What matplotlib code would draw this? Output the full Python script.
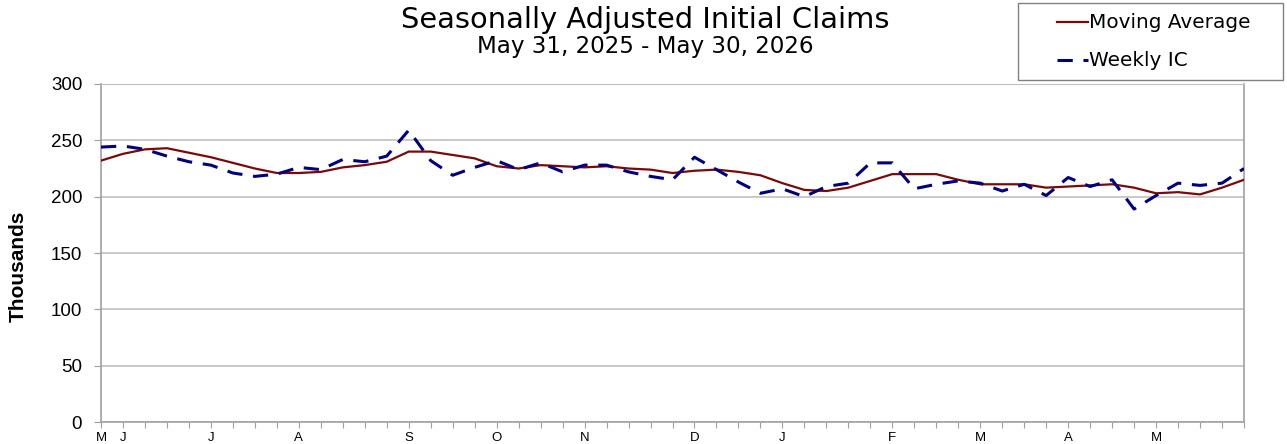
import matplotlib
matplotlib.use("Agg")
import matplotlib.pyplot as plt
from matplotlib.lines import Line2D
from matplotlib.patches import Rectangle
import numpy as np
import pandas as pd

plt.rcParams['font.family'] = ['Liberation Sans', 'DejaVu Sans']

W, H = 1287, 444

# week ending dates (Saturdays)
weeks = pd.date_range("2025-05-31", "2026-05-30", freq="7D")

# weekly initial claims, thousands
weekly_ic = [244, 245, 242, 236, 231, 228, 221, 218, 220, 226,
             224, 233, 231, 236, 259, 232, 219, 226, 232, 224,
             230, 222, 228, 228, 222, 218, 215, 235, 224, 213,
             203, 207, 200, 209, 212, 230, 230, 207, 211, 214,
             212, 205, 211, 201, 217, 209, 215, 189, 201, 212,
             210, 212, 225]

# 4-week moving average, thousands
moving_avg = [232, 238, 242, 243, 239, 235, 230, 225, 221, 221,
              222, 226, 228, 231, 240, 240, 237, 234, 227, 225,
              228, 227, 226, 227, 225, 224, 221, 223, 224, 222,
              219, 212, 206, 205, 208, 214, 220, 220, 220, 215,
              211, 211, 211, 208, 209, 210, 211, 208, 203, 204,
              202, 208, 215]

series_names = ["Moving Average", "Weekly IC"]
ma_color = "#7a0a0a"
ic_color = "#000080"

# first letter of month on the first week of each month
tick_labels = []
for i, d in enumerate(weeks):
	if i == 0 or d.day <= 7:
		tick_labels.append(d.strftime("%b")[0])
	else:
		tick_labels.append("")

def fx(px):
	return px / W

def fy(py):
	return 1 - py / H

fig = plt.figure(figsize=(W / 100, H / 100), dpi=100)
ax = fig.add_axes([fx(101), 22 / H, 1143 / W, 338 / H])

x = np.arange(len(weeks))
ax.plot(x, moving_avg, color=ma_color, linewidth=1.6, zorder=3)
ax.plot(x, weekly_ic, color=ic_color, linewidth=2.2, dashes=(5, 3.5), zorder=3)

ax.set_xlim(0, len(weeks) - 1)
ax.set_ylim(0, 300)
ax.set_yticks(np.arange(0, 301, 50))
ax.set_xticks(x)
ax.set_xticklabels(tick_labels, fontsize=9.5)
ax.tick_params(axis="y", labelsize=13.5, length=5, color="#a0a0a0", pad=8.5)
ax.tick_params(axis="x", length=4, color="#a0a0a0", pad=3)
ax.grid(axis="y", color="#c0c0c0", linewidth=1.2)
ax.set_axisbelow(True)
for s in ["left", "bottom", "right"]:
	ax.spines[s].set_color("#a0a0a0")
	ax.spines[s].set_linewidth(1.2)
ax.spines["top"].set_color("#c0c0c0")

ax.set_ylabel("Thousands", fontsize=15, fontweight="bold")
ax.yaxis.set_label_coords((28 - 101) / 1143, (422 - 266) / 338)

fig.text(fx(645), fy(20), "Seasonally Adjusted Initial Claims", ha="center", va="center",
	fontsize=20.8, family="DejaVu Sans")
fig.text(fx(645), fy(46), "May 31, 2025 - May 30, 2026", ha="center", va="center",
	fontsize=16.6, family="DejaVu Sans")

# legend box drawn by hand
fig.patches.append(Rectangle((fx(1018), fy(80)), fx(1283) - fx(1018), fy(3) - fy(80),
	transform=fig.transFigure, facecolor="white", edgecolor="#808080", linewidth=1.0, zorder=5))
fig.lines.append(Line2D([fx(1057), fx(1088)], [fy(22), fy(22)], transform=fig.transFigure,
	color=ma_color, linewidth=1.6, zorder=6))
fig.lines.append(Line2D([fx(1057), fx(1088)], [fy(60), fy(60)], transform=fig.transFigure,
	color=ic_color, linewidth=2.2, dashes=(5, 3.5), zorder=6))
for name, yy in zip(series_names, [22, 60]):
	fig.text(fx(1089), fy(yy), name, ha="left", va="center", fontsize=14.4,
		family="DejaVu Sans", zorder=7)

fig.savefig("out.png", dpi=100)
